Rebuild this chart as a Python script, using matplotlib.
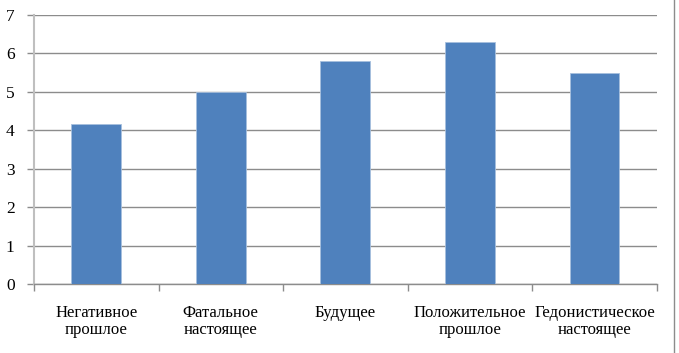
import matplotlib
matplotlib.use("Agg")
from matplotlib import pyplot as plt
import numpy as np

categories = ["Негативное\nпрошлое", "Фатальное\nнастоящее", "Будущее",
              "Положительное\nпрошлое", "Гедонистическое\nнастоящее"]
values = [4.17, 5.0, 5.8, 6.3, 5.5]
yticks = [0, 1, 2, 3, 4, 5, 6, 7]

plt.rcParams['font.family'] = ['Liberation Serif', 'DejaVu Serif']

fig = plt.figure(figsize=(6.79, 3.53), dpi=100)
ax = fig.add_axes([34 / 679, 1 - 284 / 353, (656.7 - 34) / 679, (284 - 15) / 353])

x = np.arange(len(categories))
ax.bar(x, values, width=0.4, color='#4F81BD', edgecolor='#A7C0DE', linewidth=0.6, zorder=3)

ax.set_xlim(-0.5, len(categories) - 0.5)
ax.set_ylim(0, 7)
ax.set_yticks(yticks)
ax.set_yticklabels([str(t) for t in yticks], fontsize=12.5)
ax.yaxis.grid(True, color='#8c8c8c', linewidth=1.0, zorder=0)

ax.set_xticks(x)
ax.set_xticklabels(categories, fontsize=12, linespacing=1.12)
ax.set_xticks(np.arange(len(categories) + 1) - 0.5, minor=True)
ax.tick_params(axis='x', which='major', length=0, pad=15)
ax.tick_params(axis='x', which='minor', length=5, width=1, color='#8c8c8c', direction='out')
ax.tick_params(axis='y', length=5, width=1, color='#8c8c8c', direction='out', pad=9)

for side in ['top', 'right']:
    ax.spines[side].set_visible(False)
ax.spines['left'].set_color('#bfbfbf')
ax.spines['left'].set_linewidth(1.5)
ax.spines['bottom'].set_color('#8c8c8c')
ax.spines['bottom'].set_linewidth(1.0)

# outer frame line on the right side of the picture
fig.add_artist(plt.Line2D([674 / 679, 674 / 679], [0, 1], color='#8c8c8c', linewidth=1.0))

fig.savefig("out.png", dpi=100)
